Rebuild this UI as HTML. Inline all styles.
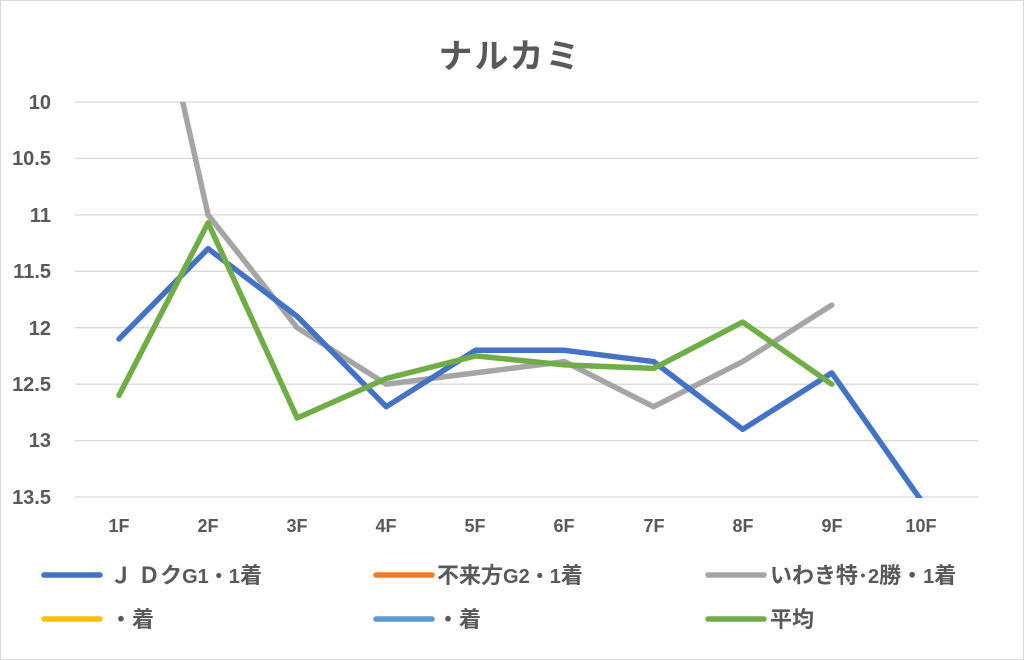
<!DOCTYPE html>
<html><head><meta charset="utf-8"><style>
html,body{margin:0;padding:0;background:#fff}
svg{display:block}
text{font-family:"Liberation Sans","Noto Sans CJK JP",sans-serif;fill:#595959;font-weight:bold}
</style></head><body>
<svg width="1024" height="660" viewBox="0 0 1024 660">
<rect x="0.5" y="0.5" width="1023" height="659" fill="#fff" stroke="#d9d9d9"/>
<text x="510" y="68" font-size="34" text-anchor="middle" letter-spacing="2">ナルカミ</text>
<g stroke="#d9d9d9" stroke-width="1.3">
<line x1="75" x2="978" y1="102" y2="102"/><line x1="75" x2="978" y1="158.4" y2="158.4"/>
<line x1="75" x2="978" y1="214.9" y2="214.9"/><line x1="75" x2="978" y1="271.3" y2="271.3"/>
<line x1="75" x2="978" y1="327.7" y2="327.7"/><line x1="75" x2="978" y1="384.2" y2="384.2"/>
<line x1="75" x2="978" y1="440.6" y2="440.6"/><line x1="75" x2="978" y1="497" y2="497"/>
</g>
<g font-size="20" text-anchor="end">
<text x="51" y="109">10</text><text x="51" y="165">10.5</text><text x="51" y="222">11</text>
<text x="51" y="278">11.5</text><text x="51" y="335">12</text><text x="51" y="391">12.5</text>
<text x="51" y="447">13</text><text x="51" y="504">13.5</text>
</g>
<g font-size="18" text-anchor="middle">
<text x="119" y="532">1F</text><text x="208" y="532">2F</text><text x="297" y="532">3F</text>
<text x="386" y="532">4F</text><text x="475" y="532">5F</text><text x="564" y="532">6F</text>
<text x="654" y="532">7F</text><text x="743" y="532">8F</text><text x="832" y="532">9F</text>
<text x="921" y="532">10F</text>
</g>
<defs><clipPath id="c"><rect x="75" y="102" width="903" height="396"/></clipPath></defs>
<g fill="none" stroke-width="5.5" stroke-linejoin="round" stroke-linecap="round" clip-path="url(#c)">
<polyline stroke="#a5a5a5" points="180,90 208.1,214.9 297.2,327.7 386.3,384.2 475.4,372.9 564.5,361.6 653.6,406.7 742.7,361.6 831.8,305.1"/>
<polyline stroke="#4472c4" points="119,339 208.1,248.7 297.2,316.4 386.3,406.7 475.4,350.3 564.5,350.3 653.6,361.6 742.7,429.3 831.8,372.9 920.9,500"/>
<polyline stroke="#70ad47" points="119,395.4 208.1,222.8 297.2,418 386.3,378.5 475.4,355.9 564.5,364.9 653.6,368.4 742.7,322.1 831.8,384.2"/>
</g>
<g stroke-width="5.5" stroke-linecap="round">
<line x1="44" x2="100" y1="575" y2="575" stroke="#4472c4"/>
<line x1="376" x2="432" y1="575" y2="575" stroke="#ed7d31"/>
<line x1="708" x2="764" y1="575" y2="575" stroke="#a5a5a5"/>
<line x1="44" x2="100" y1="619" y2="619" stroke="#ffc000"/>
<line x1="376" x2="432" y1="619" y2="619" stroke="#5b9bd5"/>
<line x1="708" x2="764" y1="619" y2="619" stroke="#70ad47"/>
</g>
<g font-size="22">
<text x="110" y="583">Ｊ Ｄク<tspan font-size="20">G1・1</tspan>着</text>
<text x="437" y="583">不来方<tspan font-size="20">G2・1</tspan>着</text>
<text x="770" y="583">いわき特<tspan font-size="20">･2</tspan>勝・<tspan font-size="20">1</tspan>着</text>
<text x="110" y="627">・着</text>
<text x="437" y="627">・着</text>
<text x="770" y="627">平均</text>
</g>
</svg>
</body></html>
